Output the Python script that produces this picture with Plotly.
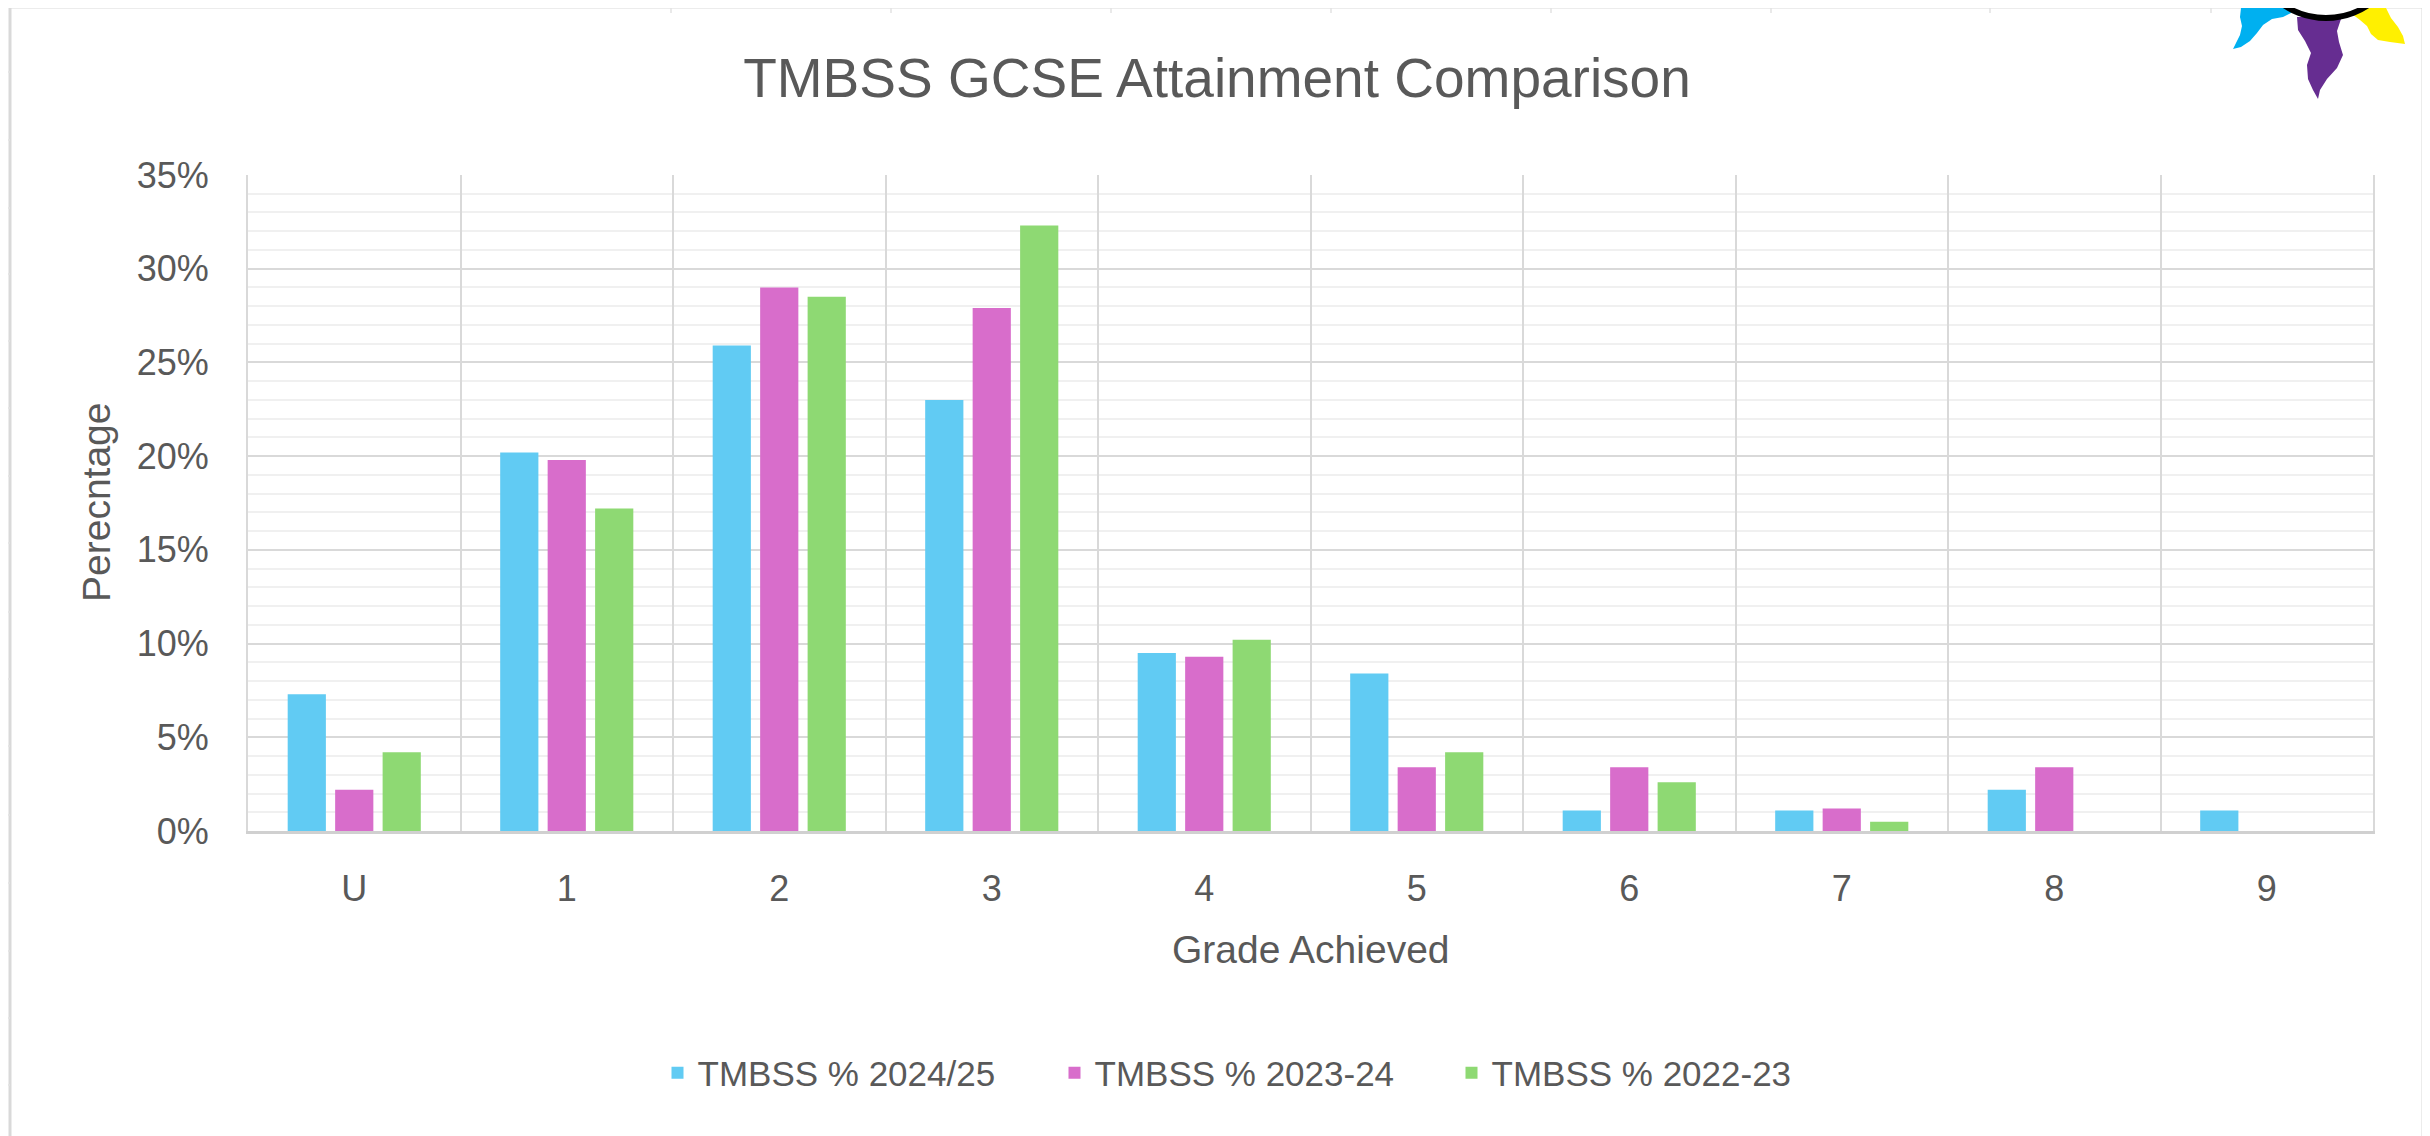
import plotly.graph_objects as go

# ---------------- data ----------------
grades = ["U", "1", "2", "3", "4", "5", "6", "7", "8", "9"]
series_names = ["TMBSS % 2024/25", "TMBSS % 2023-24", "TMBSS % 2022-23"]
pct_2024_25 = [7.3, 20.2, 25.9, 23.0, 9.5, 8.4, 1.1, 1.1, 2.2, 1.1]
pct_2023_24 = [2.2, 19.8, 29.0, 27.9, 9.3, 3.4, 3.4, 1.2, 3.4, None]
pct_2022_23 = [4.2, 17.2, 28.5, 32.3, 10.2, 4.2, 2.6, 0.5, None, None]
y_ticks = [0, 5, 10, 15, 20, 25, 30, 35]
y_tick_text = ["0%", "5%", "10%", "15%", "20%", "25%", "30%", "35%"]

colors = ["#61CBF3", "#D86DCB", "#8ED973"]
TXT = "#595959"
FONT = "Liberation Sans, Arial, sans-serif"

# ---------------- geometry (screen pixels; page body has an 8px margin) ----------------
OFF = 8
SW, SH = 2430, 1136
FW, FH = SW - OFF, SH - OFF
L, T, W, H = 248, 175, 2125, 656   # plot area in screen pixels


def px(x):
    return (x - L) / W


def py(y):
    return (T + H - y) / H


def path(points):
    pts = [f"{px(x):.5f},{py(y):.5f}" for x, y in points]
    return "M" + " L".join(pts) + " Z"


fig = go.Figure()
for name, vals, col in zip(series_names, [pct_2024_25, pct_2023_24, pct_2022_23], colors):
    fig.add_trace(go.Bar(
        x=grades, y=vals, name=name,
        marker=dict(color=col, line=dict(width=0)),
    ))

shapes = []
# chart-area border
shapes.append(dict(type="rect", xref="paper", yref="paper",
                   x0=px(10), x1=px(2423), y0=py(7), y1=py(1170),
                   line=dict(color="#d9d9d9", width=3), fillcolor="rgba(0,0,0,0)",
                   layer="below"))
# spreadsheet cell lines visible outside the chart
for cx in [671, 891, 1111, 1331, 1551, 1771, 1990, 2211]:
    shapes.append(dict(type="line", xref="paper", yref="paper",
                       x0=px(cx), x1=px(cx), y0=py(OFF), y1=py(OFF + 5),
                       line=dict(color="#e2e2e2", width=1.5)))
for ry in [72, 140, 208, 274, 341, 408, 476, 543, 612, 679, 746, 815, 883, 951, 1018, 1085]:
    shapes.append(dict(type="line", xref="paper", yref="paper",
                       x0=px(OFF), x1=px(OFF + 2), y0=py(ry), y1=py(ry),
                       line=dict(color="#e2e2e2", width=1.5)))

# logo (partially visible in top-right corner)
blue_pts = [(2243, 0), (2241, 8), (2240, 17), (2242, 26), (2240, 35), (2236, 43), (2233, 49),
            (2241, 47), (2250, 41), (2257, 33), (2263, 25), (2272, 19), (2283, 17), (2291, 13),
            (2293, 6), (2283, 0)]
purple_pts = [(2297, 17), (2298, 30), (2305, 41), (2311, 53), (2307, 65), (2308, 79), (2313, 90),
              (2318, 99), (2320, 90), (2327, 79), (2337, 68), (2343, 55), (2339, 42), (2337, 31),
              (2342, 16)]
yellow_pts = [(2360, 0), (2354, 7), (2352, 14), (2360, 20), (2367, 26), (2371, 34), (2378, 40),
              (2390, 42), (2405, 44), (2403, 36), (2398, 27), (2391, 18), (2386, 8), (2384, 0)]
shapes.append(dict(type="path", xref="paper", yref="paper", path=path(blue_pts),
                   fillcolor="#00B0F0", line=dict(width=0)))
shapes.append(dict(type="path", xref="paper", yref="paper", path=path(purple_pts),
                   fillcolor="#662D91", line=dict(width=0)))
shapes.append(dict(type="path", xref="paper", yref="paper", path=path(yellow_pts),
                   fillcolor="#FFF000", line=dict(width=0)))
cx, cy, r = 2326, -57, 75
shapes.append(dict(type="circle", xref="paper", yref="paper",
                   x0=px(cx - r), x1=px(cx + r), y0=py(cy - r), y1=py(cy + r),
                   fillcolor="white", line=dict(color="black", width=6)))

annotations = [
    dict(text="Grade Achieved", xref="paper", yref="paper", x=0.5, y=py(949),
         xanchor="center", yanchor="middle", showarrow=False,
         font=dict(family=FONT, size=39, color=TXT)),
    dict(text="Perecntage", xref="paper", yref="paper", x=px(96), y=0.5,
         xanchor="center", yanchor="middle", showarrow=False, textangle=-90,
         font=dict(family=FONT, size=39, color=TXT)),
]

fig.update_layout(
    width=FW, height=FH,
    margin=dict(l=L - OFF, r=SW - L - W, t=T - OFF, b=SH - T - H, pad=0),
    paper_bgcolor="white", plot_bgcolor="white",
    font=dict(family=FONT, size=36, color=TXT),
    title=dict(text="TMBSS GCSE Attainment Comparison", xref="container", yref="container",
               x=(1217 - OFF) / FW, y=1 - (78 - OFF) / FH, xanchor="center", yanchor="middle",
               font=dict(family=FONT, size=55, color=TXT)),
    barmode="group", bargap=0.33, bargroupgap=0.195,
    showlegend=True,
    legend=dict(orientation="h", xref="container", yref="container",
                x=0.5 + 34 / FW, xanchor="center", y=1 - (1073 - OFF) / FH, yanchor="middle",
                font=dict(family=FONT, size=35, color=TXT),
                entrywidth=352, entrywidthmode="pixels",
                bgcolor="rgba(0,0,0,0)", traceorder="normal"),
    shapes=shapes,
    annotations=annotations,
)

fig.update_xaxes(
    type="category", categoryorder="array", categoryarray=grades,
    range=[-0.5, 9.5],
    tickson="boundaries", ticks="", showgrid=True,
    gridcolor="#d9d9d9", gridwidth=2,
    showline=True, linecolor="#d0d0d0", linewidth=3,
    tickfont=dict(family=FONT, size=36, color=TXT),
    ticklabelstandoff=24,
    fixedrange=True,
)
fig.update_yaxes(
    range=[0, 35], tickvals=y_ticks, ticktext=y_tick_text,
    showgrid=True, gridcolor="#d9d9d9", gridwidth=2,
    minor=dict(dtick=1, showgrid=True, gridcolor="#f0f0f0", gridwidth=2),
    zeroline=False,
    showline=True, mirror=True, linecolor="#d9d9d9", linewidth=2,
    ticks="", tickfont=dict(family=FONT, size=36, color=TXT),
    ticklabelstandoff=30,
    fixedrange=True,
)

fig.write_html("out.html")
